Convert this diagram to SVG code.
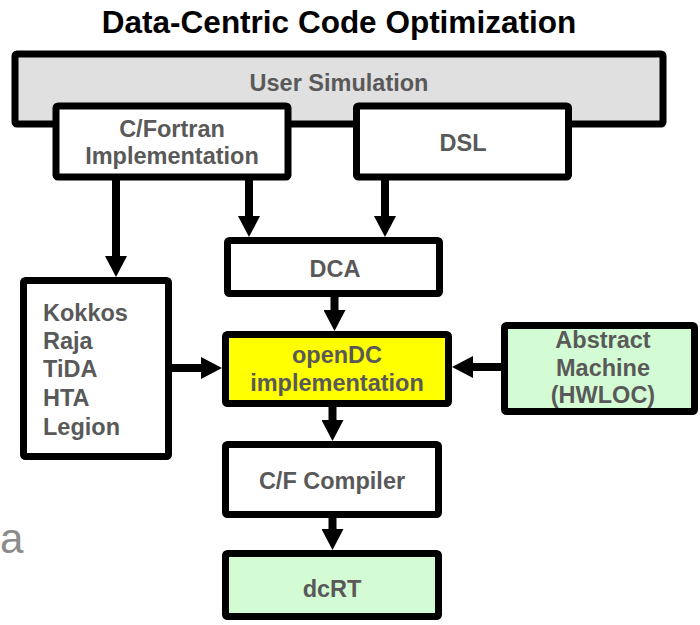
<svg xmlns="http://www.w3.org/2000/svg" width="700" height="625" viewBox="0 0 700 625">
  <defs>
    <style>
      .box { stroke: #000; stroke-width: 7; }
      .w { fill: #ffffff; }
      .g { fill: #e0e0e0; }
      .y { fill: #ffff00; }
      .gr { fill: #d4fcd4; }
      .t { font-family: "Liberation Sans", Arial, sans-serif; font-weight: bold; font-size: 23.5px; fill: #595959; text-anchor: middle; }
      .tl { font-family: "Liberation Sans", Arial, sans-serif; font-weight: bold; font-size: 23.5px; fill: #595959; }
      .title { font-family: "Liberation Sans", Arial, sans-serif; font-weight: bold; font-size: 31.5px; fill: #000; text-anchor: middle; }
      .c { stroke: #000; stroke-width: 8; fill: none; marker-end: url(#ah); }
    </style>
    <marker id="ah" markerUnits="userSpaceOnUse" markerWidth="22" markerHeight="22" viewBox="0 0 22 22" refX="11" refY="11" orient="auto">
      <path d="M0,0 L21,11 L0,22 Z" fill="#000"/>
    </marker>
  </defs>
  <rect width="700" height="625" fill="#fff"/>
  <text class="title" x="339" y="33">Data-Centric Code Optimization</text>
  <text x="0" y="553" font-family="Liberation Sans, Arial, sans-serif" font-size="42" fill="#8c8c8c">a</text>

  <g id="user-simulation">
    <rect class="box g" x="15" y="54" width="648" height="70" rx="2"/>
    <text class="t" x="339" y="91">User Simulation</text>
  </g>
  <g id="cfortran">
    <rect class="box w" x="56" y="106" width="232" height="71" rx="2"/>
    <text class="t" x="172" y="137">C/Fortran</text>
    <text class="t" x="172" y="164">Implementation</text>
  </g>
  <g id="dsl">
    <rect class="box w" x="356.5" y="106" width="212" height="71" rx="2"/>
    <text class="t" x="463" y="151">DSL</text>
  </g>
  <g id="dca">
    <rect class="box w" x="227.5" y="240.5" width="212" height="53" rx="2"/>
    <text class="t" x="335" y="277">DCA</text>
  </g>
  <g id="kokkos">
    <rect class="box w" x="23.5" y="280.5" width="145" height="176" rx="2"/>
    <text class="tl" x="43" y="321">Kokkos</text>
    <text class="tl" x="43" y="349">Raja</text>
    <text class="tl" x="43" y="377">TiDA</text>
    <text class="tl" x="43" y="406">HTA</text>
    <text class="tl" x="43" y="435">Legion</text>
  </g>
  <g id="opendc">
    <rect class="box y" x="225.5" y="334.5" width="223" height="69" rx="2"/>
    <text class="t" x="337" y="363">openDC</text>
    <text class="t" x="337" y="391">implementation</text>
  </g>
  <g id="abstract-machine">
    <rect class="box gr" x="504.5" y="325.5" width="190" height="86" rx="2"/>
    <text class="t" x="603" y="348">Abstract</text>
    <text class="t" x="603" y="376">Machine</text>
    <text class="t" x="603" y="403">(HWLOC)</text>
  </g>
  <g id="cf-compiler">
    <rect class="box w" x="225.5" y="444.5" width="213" height="70" rx="2"/>
    <text class="t" x="332" y="489">C/F Compiler</text>
  </g>
  <g id="dcrt">
    <rect class="box gr" x="225.5" y="553.5" width="213" height="63" rx="2"/>
    <text class="t" x="332" y="597">dcRT</text>
  </g>

  <g id="connectors">
    <line class="c" x1="116" y1="180" x2="116" y2="267"/>
    <line class="c" x1="249" y1="180" x2="249" y2="227"/>
    <line class="c" x1="385" y1="180" x2="385" y2="227"/>
    <line class="c" x1="334.5" y1="297" x2="334.5" y2="321"/>
    <line class="c" x1="172" y1="368" x2="212" y2="368"/>
    <line class="c" x1="501" y1="367" x2="462" y2="367"/>
    <line class="c" x1="332.5" y1="407" x2="332.5" y2="431"/>
    <line class="c" x1="332.5" y1="518" x2="332.5" y2="540"/>
  </g>
</svg>
